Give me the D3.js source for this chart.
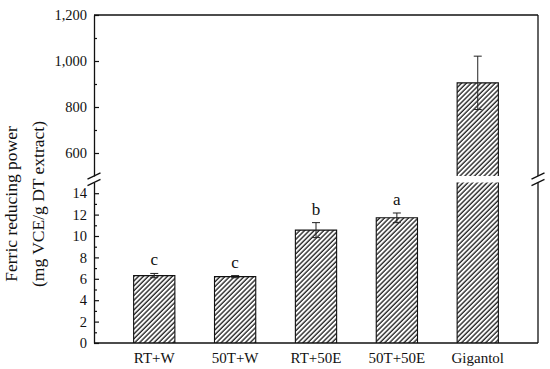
<!DOCTYPE html>
<html>
<head>
<meta charset="utf-8">
<script src="https://cdn.jsdelivr.net/npm/d3@7"></script>
<style>
  body { margin: 0; background: #fff; }
  svg text { font-family: "Liberation Serif", "DejaVu Serif", serif; fill: #111; }
</style>
</head>
<body>
<div id="chart"></div>
<script>
// data
var categories = ['RT+W', '50T+W', 'RT+50E', '50T+50E', 'Gigantol'];
var values = [6.3, 6.2, 10.55, 11.7, 905];
var errors = [0.2, 0.1, 0.7, 0.45, 116];
var letters = ['c', 'c', 'b', 'a', ''];
var lowTicks = [0, 2, 4, 6, 8, 10, 12, 14];
var lowMinor = [1, 3, 5, 7, 9, 11, 13];
var highTicks = [600, 800, 1000, 1200];
var highMinor = [700, 900, 1100];

var W = 550, H = 369;
var plot = {left: 94, right: 538, top: 15, bottom: 343};
var breakLow = 182.5, breakHigh = 176;
var serif = '"Liberation Serif", "DejaVu Serif", serif';

var svg = d3.select('#chart').append('svg')
    .attr('width', W)
    .attr('height', H)
    .attr('font-family', serif);

// hatch fill
var pat = svg.append('defs').append('pattern')
    .attr('id', 'hatch')
    .attr('patternUnits', 'userSpaceOnUse')
    .attr('width', 3.4)
    .attr('height', 3.4)
    .attr('patternTransform', 'rotate(45)');
pat.append('rect').attr('width', 3.4).attr('height', 3.4).attr('fill', '#fff');
pat.append('line')
    .attr('x1', 1).attr('x2', 1)
    .attr('y1', 0).attr('y2', 3.4)
    .attr('stroke', '#222')
    .attr('stroke-width', 1.35);

var x = d3.scaleBand()
    .domain(categories)
    .range([plot.left, plot.right])
    .padding(0.49);

var yLow = d3.scaleLinear().domain([0, 15]).range([plot.bottom, breakLow]);
var yHigh = d3.scaleLinear().domain([500, 1200]).range([breakHigh, plot.top]);

// either segment, depending on the value
function y(v) { return v <= 15 ? yLow(v) : yHigh(v); }

var rows = categories.map(function(c, i) {
  return { cat: c, val: values[i], err: errors[i], letter: letters[i] };
});

// bars: fill pieces, then an outline that stays open across the break
var bars = svg.append('g');
rows.forEach(function(d) {
  var x0 = x(d.cat), x1 = x0 + x.bandwidth();
  if (d.val <= 15) {
    bars.append('rect')
      .attr('class', 'fill')
      .attr('x', x0)
      .attr('y', yLow(d.val))
      .attr('width', x.bandwidth())
      .attr('height', yLow(0) - yLow(d.val));
    bars.append('path')
      .attr('class', 'edge')
      .attr('d', 'M' + x0 + ',' + yLow(0) + 'V' + yLow(d.val) + 'H' + x1 + 'V' + yLow(0));
  } else {
    bars.append('rect')
      .attr('class', 'fill')
      .attr('x', x0)
      .attr('y', yLow(15))
      .attr('width', x.bandwidth())
      .attr('height', yLow(0) - yLow(15));
    bars.append('rect')
      .attr('class', 'fill')
      .attr('x', x0)
      .attr('y', yHigh(d.val))
      .attr('width', x.bandwidth())
      .attr('height', yHigh(500) - yHigh(d.val));
    bars.append('path')
      .attr('class', 'edge')
      .attr('d', 'M' + x0 + ',' + yLow(0) + 'V' + yLow(15) +
                 'M' + x1 + ',' + yLow(0) + 'V' + yLow(15) +
                 'M' + x0 + ',' + yHigh(500) + 'V' + yHigh(d.val) + 'H' + x1 + 'V' + yHigh(500));
  }
});
bars.selectAll('.fill').attr('fill', 'url(#hatch)');
bars.selectAll('.edge')
    .attr('fill', 'none')
    .attr('stroke', '#111')
    .attr('stroke-width', 1.1);

// error bars
var eb = svg.append('g')
    .attr('stroke', '#222')
    .attr('stroke-width', 1);
rows.forEach(function(d) {
  var cx = x(d.cat) + x.bandwidth() / 2;
  var y1 = y(d.val + d.err), y2 = y(d.val - d.err);
  eb.append('line').attr('x1', cx).attr('x2', cx).attr('y1', y1).attr('y2', y2);
  eb.append('line').attr('x1', cx - 4).attr('x2', cx + 4).attr('y1', y1).attr('y2', y1);
  eb.append('line').attr('x1', cx - 4).attr('x2', cx + 4).attr('y1', y2).attr('y2', y2);
});

// significance letters
svg.selectAll('.letter')
    .data(rows.filter(function(d) { return d.letter; }))
  .enter().append('text')
    .attr('class', 'letter')
    .attr('x', function(d) { return x(d.cat) + x.bandwidth() / 2; })
    .attr('y', function(d) { return y(d.val + d.err) - 8; })
    .attr('text-anchor', 'middle')
    .style('font-size', '17px')
    .text(function(d) { return d.letter; });

// y axes, ticks pointing inwards
function yAxis(scale, ticks, minor, fmt) {
  var g = svg.append('g').attr('transform', 'translate(' + plot.left + ',0)');
  g.call(d3.axisLeft(scale).tickValues(ticks).tickSizeInner(-5).tickSizeOuter(0)
      .tickPadding(7).tickFormat(fmt));
  var m = svg.append('g').attr('transform', 'translate(' + plot.left + ',0)');
  m.call(d3.axisLeft(scale).tickValues(minor).tickSizeInner(-3).tickSizeOuter(0)
      .tickFormat(''));
  m.select('.domain').remove();
  [g, m].forEach(function(s) {
    s.attr('font-family', serif);
    s.selectAll('line').attr('stroke', '#111').attr('stroke-width', 1.2);
  });
  g.select('.domain').attr('stroke', '#111').attr('stroke-width', 1.3);
  g.attr('font-size', 14.5);
  g.selectAll('text').attr('fill', '#111');
}
yAxis(yLow, lowTicks, lowMinor, d3.format('d'));
yAxis(yHigh, highTicks, highMinor, d3.format(','));

// frame: top, right (broken), bottom
var frame = svg.append('g').attr('stroke', '#111').attr('stroke-width', 1.3).attr('fill', 'none');
frame.append('line').attr('x1', plot.left).attr('x2', plot.right).attr('y1', plot.top).attr('y2', plot.top);
frame.append('line').attr('x1', plot.left).attr('x2', plot.right).attr('y1', plot.bottom).attr('y2', plot.bottom);
frame.append('line').attr('x1', plot.right).attr('x2', plot.right).attr('y1', plot.top).attr('y2', breakHigh);
frame.append('line').attr('x1', plot.right).attr('x2', plot.right).attr('y1', breakLow).attr('y2', plot.bottom);

// break marks
[plot.left, plot.right].forEach(function(bx) {
  [breakHigh, breakLow].forEach(function(by) {
    frame.append('line')
      .attr('x1', bx - 6.5).attr('y1', by + 3.2)
      .attr('x2', bx + 6.5).attr('y2', by - 3.2);
  });
});

// category labels
svg.append('g')
    .attr('transform', 'translate(0,' + plot.bottom + ')')
    .call(d3.axisBottom(x).tickSize(0).tickPadding(9))
    .attr('font-family', serif)
    .attr('font-size', 15)
    .call(function(g) { g.select('.domain').remove(); })
    .selectAll('text')
    .attr('fill', '#111');

// y title
var title = svg.append('text')
    .attr('transform', 'translate(0,204) rotate(-90)')
    .attr('text-anchor', 'middle')
    .style('font-size', '17.5px');
title.append('tspan').attr('x', 0).attr('y', 17).text('Ferric reducing power');
title.append('tspan').attr('x', 0).attr('y', 44).text('(mg VCE/g DT extract)');
</script>
</body>
</html>
